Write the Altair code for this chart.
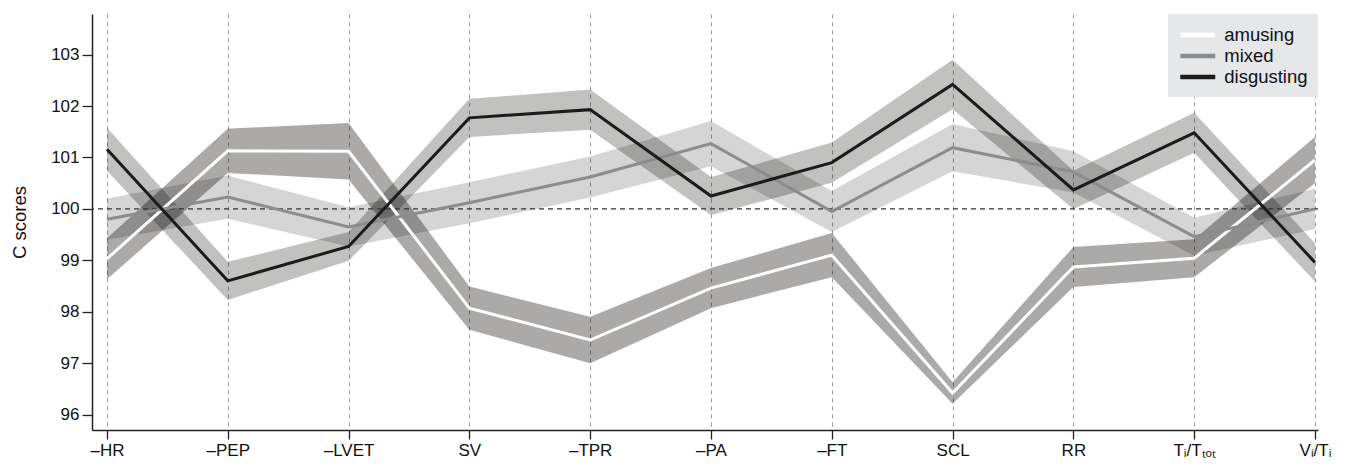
import altair as alt
import pandas as pd

categories = ["–HR", "–PEP", "–LVET", "SV", "–TPR", "–PA", "–FT", "SCL", "RR", "Tᵢ/Tₜₒₜ", "Vᵢ/Tᵢ"]
series_names = ["amusing", "mixed", "disgusting"]

amusing_mean = [99.03, 101.13, 101.12, 98.07, 97.45, 98.46, 99.10, 96.42, 98.87, 99.04, 100.95]
amusing_err = [0.40, 0.43, 0.55, 0.42, 0.45, 0.39, 0.43, 0.21, 0.39, 0.37, 0.45]
mixed_mean = [99.80, 100.23, 99.65, 100.12, 100.62, 101.27, 99.95, 101.19, 100.72, 99.46, 100.00]
mixed_err = [0.40, 0.42, 0.38, 0.40, 0.40, 0.44, 0.40, 0.46, 0.40, 0.37, 0.39]
disgusting_mean = [101.16, 98.60, 99.27, 101.77, 101.93, 100.25, 100.90, 102.42, 100.37, 101.48, 98.96]
disgusting_err = [0.42, 0.37, 0.28, 0.37, 0.39, 0.37, 0.39, 0.48, 0.37, 0.39, 0.37]

y_ticks = [96, 97, 98, 99, 100, 101, 102, 103]

rows = []
for name, means, errs in zip(series_names,
                             [amusing_mean, mixed_mean, disgusting_mean],
                             [amusing_err, mixed_err, disgusting_err]):
    for i, (m, e) in enumerate(zip(means, errs)):
        rows.append({"idx": i, "series": name, "band": name + " band",
                     "mean": m, "lo": m - e, "hi": m + e})
df = pd.DataFrame(rows)

FONT = "Liberation Sans"
x_scale = alt.Scale(domain=[-0.124, 10.025], nice=False, zero=False)
y_scale = alt.Scale(domain=[95.70, 103.79], nice=False, zero=False)
label_expr = "[" + ",".join("'" + c + "'" for c in categories) + "][datum.value]"

x_axis = alt.Axis(values=list(range(len(categories))), labelExpr=label_expr, grid=True,
                  gridDash=[4, 4], gridColor="#9a9a9a", gridWidth=1, tickSize=9,
                  tickColor="#222222", tickWidth=1.3, domainColor="#222222", domainWidth=1.5,
                  labelFontSize=17, labelPadding=3, labelColor="#111111", labelFont=FONT,
                  title=None)
y_axis = alt.Axis(values=y_ticks, grid=False, tickSize=10, tickColor="#222222", tickWidth=1.3,
                  domainColor="#222222", domainWidth=1.5, labelFontSize=17, labelPadding=3,
                  labelColor="#111111", labelFont=FONT, title="C scores", titleFontSize=18.5,
                  titleFontWeight="normal", titleFont=FONT, titleColor="#111111", titlePadding=21)

base = alt.Chart(df)

bands = base.mark_area(interpolate="linear").encode(
    x=alt.X("idx:Q", scale=x_scale, axis=x_axis),
    y=alt.Y("lo:Q", scale=y_scale, axis=y_axis),
    y2="hi:Q",
    fill=alt.Fill("band:N", legend=None,
                  scale=alt.Scale(domain=[s + " band" for s in series_names],
                                  range=["rgba(8,6,4,0.34)", "rgba(8,6,4,0.17)", "rgba(8,6,4,0.25)"])),
)

ref = alt.Chart(pd.DataFrame({"v": [100]})).mark_rule(
    color="#333333", strokeDash=[5, 4], strokeWidth=1.2
).encode(y=alt.Y("v:Q", scale=y_scale))

stroke_enc = alt.Stroke(
    "series:N",
    scale=alt.Scale(domain=series_names, range=["#ffffff", "#8b8c8e", "#1b1b1b"]),
    legend=alt.Legend(title=None, orient="top-right", offset=0, fillColor="#e6e7e9",
                      padding=10, labelFontSize=18.5, labelFont=FONT, labelColor="#111111",
                      symbolType="M-2,0H2", symbolSize=306.25, symbolStrokeWidth=4.5,
                      symbolOffset=8.75, labelOffset=15.5, rowPadding=-0.5),
)

lines = []
for name in series_names:
    lines.append(
        base.transform_filter(alt.datum.series == name).mark_line(strokeWidth=3).encode(
            x=alt.X("idx:Q", scale=x_scale),
            y=alt.Y("mean:Q", scale=y_scale),
            stroke=stroke_enc,
        )
    )

chart = alt.layer(bands, ref, *lines).properties(
    width=1226, height=416,
    autosize=alt.AutoSizeParams(type="none"),
    padding={"left": 84, "top": 6, "right": 21, "bottom": 30},
).configure_view(stroke=None)

chart.save("out.html", embed_options={"renderer": "svg", "actions": False})
